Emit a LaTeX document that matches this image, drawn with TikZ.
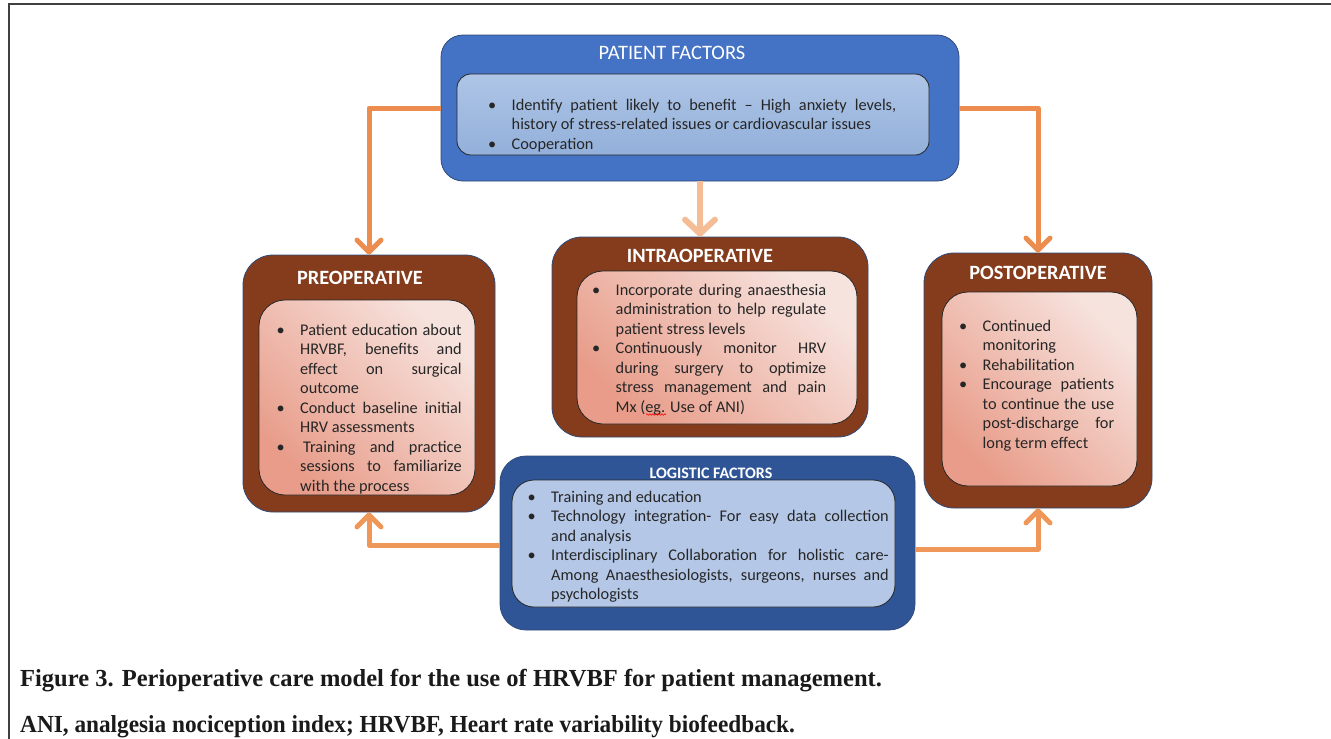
\documentclass[tikz,border=0pt]{standalone}
\usepackage{fontspec}
\setmainfont{Carlito}
\newfontfamily\capfont[FakeStretch = 1.0]{Liberation Serif}
\newfontfamily\capfontb[FakeStretch = 0.95]{Liberation Serif}
\usetikzlibrary{
    arrows.meta,
    decorations.pathmorphing
}
\definecolor{patblue}{HTML}{4472C4}
\definecolor{logblue}{HTML}{2F5597}
\definecolor{edgeblue}{HTML}{2F4A78}
\definecolor{phasebrown}{HTML}{843C1C}
\definecolor{lightblue}{HTML}{AEC5E6}
\definecolor{midblue}{HTML}{93B0DA}
\definecolor{logfill}{HTML}{B4C7E7}
\definecolor{pinklight}{HTML}{F7E3DE}
\definecolor{pinkdark}{HTML}{E89C89}
\definecolor{arrowtop}{HTML}{EC8C4E}
\definecolor{arrowlow}{HTML}{EE9758}
\definecolor{arrowpale}{HTML}{F5BD95}
\definecolor{txt}{HTML}{262626}
\definecolor{capblack}{HTML}{1A1A1A}
\newcommand{\bitem}{\par\noindent\hangindent = 23.5pt\hangafter = 1\strut\makebox[23.5pt][l]{\textbullet}}
\tikzset {
    outer box/.style = {draw = edgeblue, line width = 0.8pt, inner sep = 0pt},
    patient box/.style = {outer box, fill = patblue, rounded corners = 22pt},
    logistic box/.style = {outer box, fill = logblue, rounded corners = 26pt},
    phase box/.style = {outer box, fill = phasebrown, rounded corners = 30pt},
    inner box/.style = {draw = black!85, line width = 0.8pt, inner sep = 0pt},
    blue inner/.style = {inner box, top color = lightblue, bottom color = midblue, rounded corners = 14pt},
    logistic inner/.style = {inner box, fill = logfill, rounded corners = 22pt},
    pink inner/.style = {inner box, top color = pinklight, bottom color = pinkdark, shading angle = -45, rounded corners = 26pt},
    title/.style = {text = white, inner sep = 0pt, font = \fontsize{20.5}{22}\selectfont},
    phase title/.style = {title, font = \bfseries\fontsize{20.3}{22}\selectfont},
    items/.style = {
        text = txt, inner sep = 0pt, anchor = north west, align = justify,
        text width = #1, font = \fontsize{16.3}{19.5}\selectfont
    },
    flow/.style = {
        draw = #1, line width = 5pt, line join = round,
        -{Straight Barb[length = 12pt, width = 24pt, round]}
    },
    wide flow/.style = {
        draw = #1, line width = 6pt,
        -{Straight Barb[length = 14pt, width = 30pt, round]}
    },
    caption/.style = {text = capblack, inner sep = 0pt, anchor = base west, font = \capfont\bfseries\fontsize{24.5}{28}\selectfont}
}

\begin{document}
\begin{tikzpicture}[x = 1pt, y = -1pt]
    \useasboundingbox (0, 0) rectangle (1331, 739);
    \draw [line width = 1.2pt, black!75] (9, 739) -- (9, 4) -- (1331, 4);

    % patient factors
    \node (pat) [patient box, minimum width = 518pt, minimum height = 146pt] at (700, 108) {};
    \node (patt) [title] at (672, 53) {PATIENT FACTORS};
    \node (pati) [blue inner, minimum width = 472pt, minimum height = 81pt] at (693, 114.5) {};
    \node (patx) [items = 408pt] at (488, 90.4) {\bitem Identify patient likely to benefit – High anxiety levels,\linebreak history of stress-related issues or cardiovascular issues \bitem Cooperation\par};

    % preoperative
    \node (pre) [phase box, minimum width = 252pt, minimum height = 257pt] at (369, 383.5) {};
    \node (pret) [phase title] at (360, 278) {PREOPERATIVE};
    \node (prei) [pink inner, minimum width = 216pt, minimum height = 195pt] at (367, 397.5) {};
    \node (prex) [items = 185pt] at (276.5, 315.4) {\bitem Patient education about\linebreak HRVBF, benefits and\linebreak effect on surgical\linebreak outcome \bitem Conduct baseline initial\linebreak HRV assessments \bitem\hspace{3pt}Training and practice\linebreak sessions to familiarize\linebreak with the process\par};

    % intraoperative
    \node (intra) [phase box, minimum width = 316pt, minimum height = 200pt] at (710, 337) {};
    \node (intrat) [phase title] at (700, 256) {INTRAOPERATIVE};
    \node (intrai) [pink inner, minimum width = 280pt, minimum height = 153pt] at (717, 347.5) {};
    \node (intrax) [items = 234pt] at (592, 275.4) {\bitem Incorporate during anaesthesia\linebreak administration to help regulate\linebreak patient stress levels \bitem Continuously monitor HRV\linebreak during surgery to optimize\linebreak stress management and pain\linebreak Mx (eg. Use of ANI)\par};
    \draw [red, line width = 0.6pt, decorate, decoration = {snake, amplitude = 0.8pt, segment length = 3pt}] (646, 414.5) -- (666, 414.5);

    % postoperative
    \node (post) [phase box, minimum width = 228pt, minimum height = 255pt] at (1038, 380.5) {};
    \node (postt) [phase title] at (1038, 273) {POSTOPERATIVE};
    \node (posti) [pink inner, minimum width = 195pt, minimum height = 194pt] at (1039.5, 389) {};
    \node (postx) [items = 155pt] at (959, 311.4) {\bitem Continued\linebreak monitoring \bitem Rehabilitation \bitem Encourage patients\linebreak to continue the use\linebreak post-discharge for\linebreak long term effect\par};

    % logistic factors
    \node (log) [logistic box, minimum width = 415pt, minimum height = 174pt] at (707.5, 543) {};
    \node (logt) [title, font = \bfseries\fontsize{16}{18}\selectfont] at (711, 473) {LOGISTIC FACTORS};
    \node (logi) [logistic inner, minimum width = 383pt, minimum height = 127pt] at (703.5, 543.5) {};
    \node (logx) [items = 361pt] at (527.5, 482.4) {\bitem Training and education \bitem Technology integration- For easy data collection\linebreak and analysis \bitem Interdisciplinary Collaboration for holistic care-\linebreak Among Anaesthesiologists, surgeons, nurses and\linebreak psychologists\par};

    % connectors
    \draw [flow = arrowtop] (pat.west) -| (pre.north);
    \draw [flow = arrowtop] (pat.east) -| (post.north);
    \draw [wide flow = arrowpale] (pat.south) -- (pat.south |- intra.north);
    \draw [flow = arrowlow] ([yshift = -2pt]log.west) -| (pre.south);
    \draw [flow = arrowlow] ([yshift = -6pt]log.east) -| (post.south);

    \node (fig) [caption] at (20, 686) {Figure 3. Perioperative care model for the use of HRVBF for patient management.};
    \node (abbr) [caption, font = \capfontb\bfseries\fontsize{24.5}{28}\selectfont] at (20, 732) {ANI, analgesia nociception index; HRVBF, Heart rate variability biofeedback.};
\end{tikzpicture}
\end{document}
